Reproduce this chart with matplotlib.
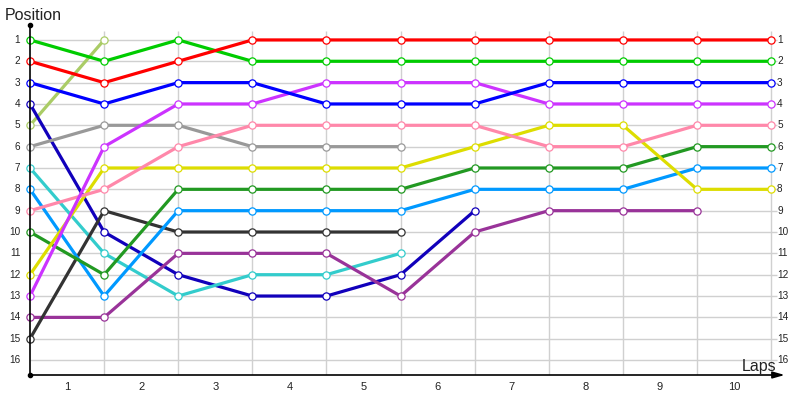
import numpy as np
import matplotlib
matplotlib.use("Agg")
import matplotlib.pyplot as plt

# ---- data ----
laps = [1, 2, 3, 4, 5, 6, 7, 8, 9, 10]
positions = list(range(1, 17))

red        = [2, 3, 2, 1, 1, 1, 1, 1, 1, 1, 1]
green      = [1, 2, 1, 2, 2, 2, 2, 2, 2, 2, 2]
blue       = [3, 4, 3, 3, 4, 4, 4, 3, 3, 3, 3]
magenta    = [13, 6, 4, 4, 3, 3, 3, 4, 4, 4, 4]
pink       = [9, 8, 6, 5, 5, 5, 5, 6, 6, 5, 5]
grey       = [6, 5, 5, 6, 6, 6]
yellow     = [12, 7, 7, 7, 7, 7, 6, 5, 5, 8, 8]
darkgreen  = [10, 12, 8, 8, 8, 8, 7, 7, 7, 6, 6]
lightblue  = [8, 13, 9, 9, 9, 9, 8, 8, 8, 7, 7]
darkgrey   = [15, 9, 10, 10, 10, 10]
purple     = [14, 14, 11, 11, 11, 13, 10, 9, 9, 9]
cyan       = [7, 11, 13, 12, 12, 11]
navy       = [4, 10, 12, 13, 13, 12, 9]
olive      = [5, 1]

series = [
    (olive, "#aacc66"),
    (navy, "#1100bb"),
    (cyan, "#33cccc"),
    (purple, "#993399"),
    (darkgrey, "#333333"),
    (lightblue, "#0099ff"),
    (darkgreen, "#229922"),
    (yellow, "#dddd00"),
    (grey, "#999999"),
    (pink, "#ff88aa"),
    (magenta, "#cc33ff"),
    (blue, "#0000ff"),
    (green, "#00cc00"),
    (red, "#ff0000"),
]

fig = plt.figure(figsize=(8, 4), dpi=100)
ax = fig.add_axes([30/800, 1-375/400, 756/800, 350/400])
ax.set_xlim(0, 10.2)
ax.set_ylim(16.7, 0.3)
ax.axis("off")

grid_c = "#d0d0d0"
for p in positions:
    ax.plot([0, 10.08], [p, p], color=grid_c, lw=1, zorder=1, solid_capstyle="butt")
for x in range(1, 11):
    ax.plot([x, x], [0.6, 16.7], color=grid_c, lw=1, zorder=1, solid_capstyle="butt")

# axes
ax.plot([0, 0], [0.3, 16.7], color="black", lw=1.2, zorder=5, clip_on=False)
ax.plot([0, 10.05], [16.7, 16.7], color="black", lw=1.2, zorder=5, clip_on=False)
ax.annotate("", xy=(10.22, 16.7), xytext=(10.0, 16.7),
            arrowprops=dict(arrowstyle="-|>,head_length=0.7,head_width=0.2",
                            color="black", lw=1.2), annotation_clip=False, zorder=5)
ax.plot([0], [0.3], "o", color="black", ms=3, zorder=6, clip_on=False)
ax.plot([0], [16.7], "o", color="black", ms=3, zorder=6, clip_on=False)

for vals, col in series:
    xs = list(range(len(vals)))
    ax.plot(xs, vals, color=col, lw=2.3, zorder=3, solid_capstyle="butt")
    ax.plot(xs, vals, "o", ms=5.2, mfc="white", mec=col, mew=0.9, zorder=4, clip_on=False)

font = "Liberation Sans"
for p in positions:
    ax.text(-0.13, p, str(p), ha="right", va="center", fontsize=7.2,
            family=font, color="#222222")
    ax.text(10.08, p, str(p), ha="left", va="center", fontsize=7.2,
            family=font, color="#222222")

for i, lap in enumerate(laps):
    ax.text(i + 0.5, 17.25, str(lap), ha="center", va="center", fontsize=8,
            family=font, color="#222222", clip_on=False)

fig.text(5/800, 1-16/400, "Position", ha="left", va="center", fontsize=11.5,
         family=font, color="#222222")
fig.text(776/800, 1-367/400, "Laps", ha="right", va="center", fontsize=11.5,
         family=font, color="#222222")

fig.savefig("out.png", dpi=100)
